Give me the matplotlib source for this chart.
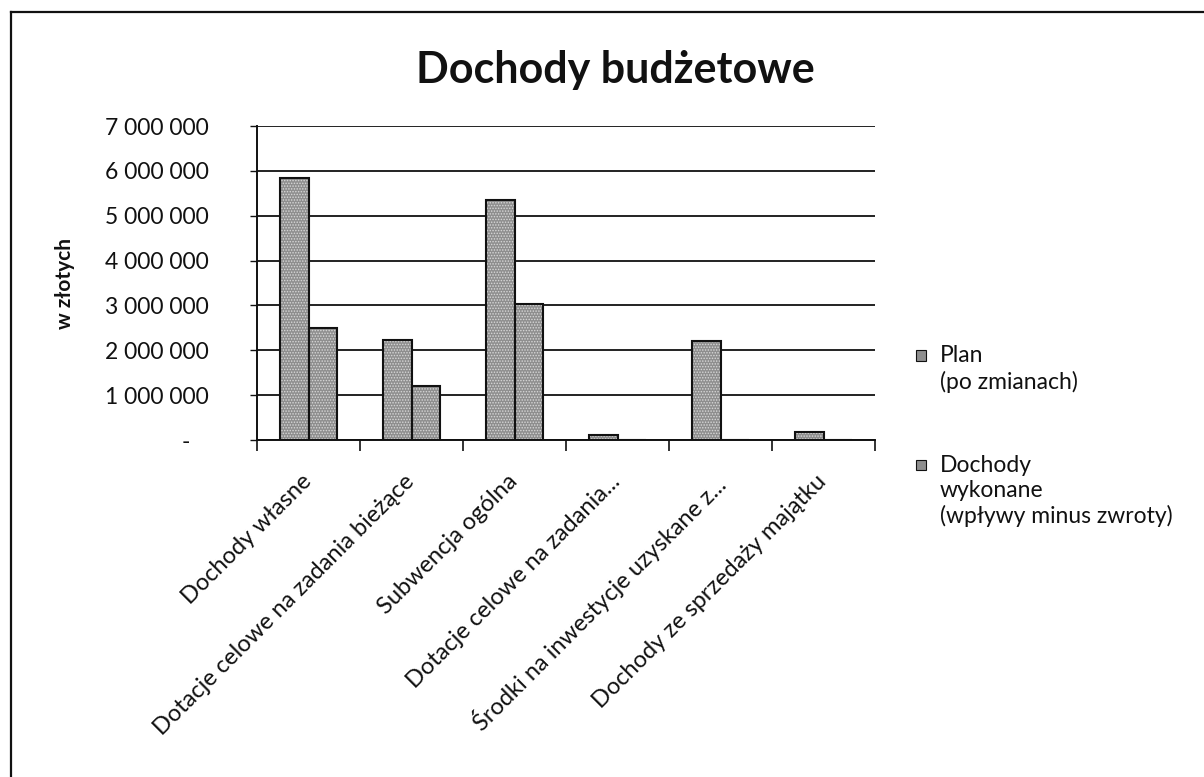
import matplotlib
matplotlib.use("Agg")
import matplotlib.pyplot as plt
import matplotlib.transforms as mtransforms
from matplotlib.lines import Line2D
from matplotlib.patches import Rectangle
import numpy as np

plt.rcParams["font.family"] = ["Lato", "DejaVu Sans"]
plt.rcParams["hatch.linewidth"] = 0.7

categories = [
    "Dochody własne",
    "Dotacje celowe na zadania bieżące",
    "Subwencja ogólna",
    "Dotacje celowe na zadania...",
    "Środki na inwestycje uzyskane z...",
    "Dochody ze sprzedaży majątku",
]
plan = [5840000, 2230000, 5350000, 110000, 2210000, 180000]
wykonane = [2500000, 1210000, 3030000, 0, 0, 0]
series_labels = ["Plan\n(po zmianach)", "Dochody\nwykonane\n(wpływy minus zwroty)"]
yticks = [0, 1000000, 2000000, 3000000, 4000000, 5000000, 6000000, 7000000]

INK = "#111111"
FILL = "#8e8e8e"
DOTS = "#d8d8d8"

fig = plt.figure(figsize=(12.04, 7.77), dpi=100)
fig.patch.set_facecolor("white")
ax = fig.add_axes([0.2135, 0.4337, 0.5133, 0.4041])

x = np.arange(len(categories))
w = 0.275
for vals, off in ((plan, -w / 2), (wykonane, w / 2)):
    ax.bar(x + off, vals, w, color=FILL, edgecolor=DOTS, hatch="......",
           linewidth=0, zorder=3)
    ax.bar(x + off, vals, w, fill=False, edgecolor=INK, linewidth=1.5, zorder=4)

ax.set_xlim(-0.5, len(categories) - 0.5)
ax.set_ylim(0, 7000000)
ax.set_yticks(yticks)
ax.set_yticklabels(["-   "] + [f"{v:,}".replace(",", " ") for v in yticks[1:]],
                   fontsize=16.5, color=INK)
ax.tick_params(axis="y", length=5, width=1, pad=30, colors=INK)
ax.grid(axis="y", color=INK, linewidth=1.3, zorder=0)

ax.set_xticks(x)
ax.set_xticklabels(categories, rotation=45, ha="right", rotation_mode="anchor",
                   fontsize=17, color=INK)
ax.tick_params(axis="x", which="major", length=0, pad=22)
shift = mtransforms.ScaledTranslation(-8 / 100, 0, fig.dpi_scale_trans)
for lbl in ax.get_xticklabels():
    lbl.set_transform(lbl.get_transform() + shift)
ax.set_xticks(np.arange(-0.5, len(categories)), minor=True)
ax.tick_params(axis="x", which="minor", length=8, width=1.2, color=INK)

for side in ("top", "right"):
    ax.spines[side].set_visible(False)
for side in ("left", "bottom"):
    ax.spines[side].set_color(INK)
    ax.spines[side].set_linewidth(1.4)

ax.set_ylabel("w złotych", fontsize=15, fontweight="bold", color=INK)
ax.yaxis.set_label_coords(-0.294, 0.5)

fig.text(0.511, 0.91, "Dochody budżetowe", ha="center", va="center",
         fontsize=31, fontweight="bold", color=INK)

# legend, laid out as in the original (marker beside the first line)
for label, y in zip(series_labels, (0.543, 0.402)):
    fig.patches.append(Rectangle((0.761, y - 0.007), 0.0085, 0.0135,
                                 transform=fig.transFigure, facecolor=FILL,
                                 edgecolor=INK, linewidth=0.8))
    fig.text(0.7805, y + 0.013, label, ha="left", va="top", fontsize=16.5,
             color=INK, linespacing=1.25)

# outer chart frame (top and left edges visible in the scan)
fig.add_artist(Line2D([0.0091, 1.0], [0.9846, 0.9846], color=INK, linewidth=1.6,
                      transform=fig.transFigure))
fig.add_artist(Line2D([0.0091, 0.0091], [0.0, 0.9846], color=INK, linewidth=1.6,
                      transform=fig.transFigure))

fig.savefig("out.png", dpi=100)
